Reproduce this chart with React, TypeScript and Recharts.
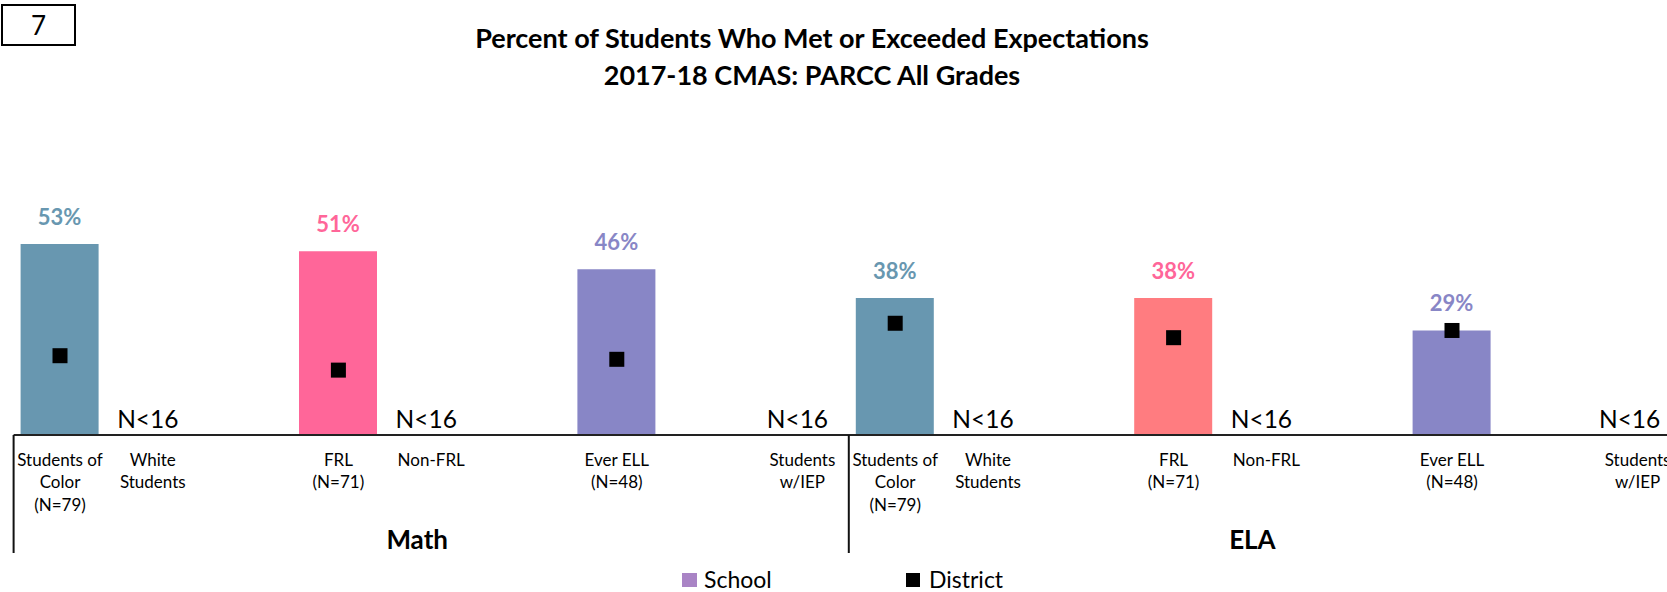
import { Bar, Cell, ComposedChart, LabelList, Line, XAxis, YAxis } from "recharts";

const groups = ["Math", "ELA"];

const categories = [
  "Students of\nColor\n(N=79)", "White\nStudents", "", "FRL\n(N=71)", "Non-FRL", "", "Ever ELL\n(N=48)", "", "Students\nw/IEP",
  "Students of\nColor\n(N=79)", "White\nStudents", "", "FRL\n(N=71)", "Non-FRL", "", "Ever ELL\n(N=48)", "", "Students\nw/IEP",
];

const schoolValues = [53, null, null, 51, null, null, 46, null, null, 38, null, null, 38, null, null, 29, null, null];
const districtValues = [22, null, null, 18, null, null, 21, null, null, 31, null, null, 27, null, null, 29, null, null];
const smallGroupNotes = ["", "N<16", "", "", "N<16", "", "", "", "N<16", "", "N<16", "", "", "N<16", "", "", "", "N<16"];

// colours per category slot
const barColors = ["#6897B0", "", "", "#FF6699", "", "", "#8886C6", "", "", "#6897B0", "", "", "#FF7C80", "", "", "#8886C6", "", ""];
const labelColors = ["#6897B0", "", "", "#FF6699", "", "", "#8886C6", "", "", "#6897B0", "", "", "#FF6699", "", "", "#8886C6", "", ""];

const FONT = "Lato, 'Open Sans', sans-serif";
const CHART_W = 1700;
const CHART_H = 592;
const MARGIN = { top: 182.7, right: 16, bottom: 57, left: 13.6 };
const AXIS_H = 100;
const BAND = (CHART_W - MARGIN.left - MARGIN.right) / categories.length;

const rows = categories.map((_, i) => ({
  id: `c${i}`,
  school: schoolValues[i],
  district: districtValues[i],
  note: smallGroupNotes[i] ? 0 : null,
}));

function CategoryTick(props: any) {
  const { x, y, index } = props;
  const lines = categories[index] ? categories[index].split("\n") : [];
  const groupIdx = Math.floor(index / 9);
  return (
    <g>
      {lines.map((l: string, i: number) => (
        <text key={i} x={x} y={y + 31 + i * 22.4} textAnchor="middle" fontSize={17} fontFamily={FONT} fill="#000">
          {l}
        </text>
      ))}
      {index % 9 === 0 && (
        <line x1={x - BAND / 2} x2={x - BAND / 2} y1={y} y2={y + 118} stroke="#111" strokeWidth={2} />
      )}
      {index % 9 === 4 && (
        <text x={x - 14} y={y + 114} textAnchor="middle" fontSize={26} fontWeight="bold" fontFamily={FONT} fill="#000">
          {groups[groupIdx]}
        </text>
      )}
    </g>
  );
}

// LabelList reads the row id so the colour follows the category slot
function PercentLabel(props: any) {
  const { x, y, width, value } = props;
  const idx = Number(String(value).slice(1));
  const v = schoolValues[idx];
  if (v == null) return null;
  return (
    <text x={x + width / 2} y={y - 19} textAnchor="middle" fontSize={22} fontWeight="bold" fontFamily={FONT} fill={labelColors[idx]}>
      {`${v}%`}
    </text>
  );
}

function DistrictDot(props: any) {
  const { cx, cy, index } = props;
  if (cy == null || !isFinite(cy)) return <g key={`d${index}`} />;
  return <rect key={`d${index}`} x={cx - 7.5} y={cy - 7.5} width={15} height={15} fill="#000" />;
}

function NoteDot(props: any) {
  const { cx, cy, index } = props;
  if (cy == null || !isFinite(cy)) return <g key={`n${index}`} />;
  const dx = index === categories.length - 1 ? -8 : -5;
  return (
    <text key={`n${index}`} x={cx + dx} y={cy - 7} textAnchor="middle" fontSize={24.5} fontFamily={FONT} fill="#000">
      {smallGroupNotes[index]}
    </text>
  );
}

export default function App() {
  return (
    <div
      style={{
        position: "fixed",
        left: 0,
        top: 0,
        width: 1667,
        height: 592,
        overflow: "hidden",
        background: "#fff",
        fontFamily: FONT,
      }}
    >
      <div
        style={{
          position: "absolute",
          left: 1,
          top: 4,
          width: 75,
          height: 42,
          boxSizing: "border-box",
          border: "2px solid #000",
          textAlign: "center",
          lineHeight: "38px",
          fontSize: 26,
        }}
      >
        7
      </div>
      <div
        style={{
          position: "absolute",
          left: 312,
          top: 20,
          width: 1000,
          textAlign: "center",
          fontWeight: "bold",
          fontSize: 27,
          lineHeight: "36.5px",
          color: "#000",
        }}
      >
        <div>Percent of Students Who Met or Exceeded Expectations</div>
        <div>2017-18 CMAS: PARCC All Grades</div>
      </div>

      <div style={{ position: "absolute", left: 0, top: 0 }}>
        <ComposedChart width={CHART_W} height={CHART_H} data={rows} margin={MARGIN}>
          <XAxis
            dataKey="id"
            interval={0}
            tickLine={false}
            tickSize={0}
            tickMargin={0}
            height={AXIS_H}
            axisLine={{ stroke: "#222", strokeWidth: 2 }}
            tick={CategoryTick}
          />
          <YAxis hide width={0} domain={[0, 70]} />
          <Bar dataKey="school" barSize={78} isAnimationActive={false}>
            {rows.map((r, i) => (
              <Cell key={r.id} fill={barColors[i] || "#A984C5"} />
            ))}
            <LabelList dataKey="id" content={PercentLabel} />
          </Bar>
          <Line
            dataKey="district"
            stroke="none"
            isAnimationActive={false}
            dot={DistrictDot}
            activeDot={false}
            legendType="none"
          />
          <Line
            dataKey="note"
            stroke="none"
            isAnimationActive={false}
            dot={NoteDot}
            activeDot={false}
            legendType="none"
          />
        </ComposedChart>
      </div>

      <div style={{ position: "absolute", left: 682, top: 573, width: 15, height: 14, background: "#A984C5" }} />
      <div style={{ position: "absolute", left: 704, top: 567, fontSize: 23, lineHeight: "24px" }}>School</div>
      <div style={{ position: "absolute", left: 906, top: 573, width: 14, height: 14, background: "#000" }} />
      <div style={{ position: "absolute", left: 929, top: 567, fontSize: 23, lineHeight: "24px" }}>District</div>
    </div>
  );
}
